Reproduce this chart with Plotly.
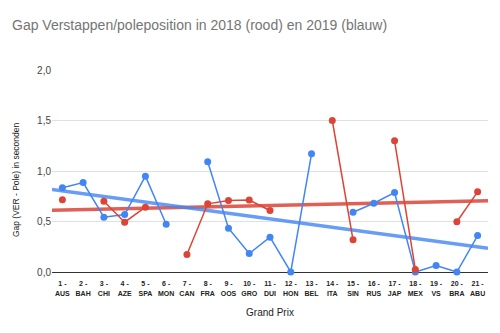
import numpy as np
import plotly.graph_objects as go

# Grand Prix rounds (number + short code)
rounds = list(range(1, 22))
gp_codes = ["AUS", "BAH", "CHI", "AZE", "SPA", "MON", "CAN", "FRA", "OOS", "GRO",
            "DUI", "HON", "BEL", "ITA", "SIN", "RUS", "JAP", "MEX", "VS", "BRA", "ABU"]
tick_labels = [f"<b>{n} -<br>{c}</b>" for n, c in zip(rounds, gp_codes)]

# Gap to pole position (seconds); None = no comparable qualifying
gap_2018 = [0.715, None, 0.70, 0.493, 0.642, None, 0.173, 0.675, 0.708, 0.712,
            0.609, None, None, 1.50, 0.319, None, 1.299, 0.025, None, 0.497, 0.794]
gap_2019 = [0.834, 0.886, 0.543, 0.569, 0.949, 0.473, None, 1.091, 0.434, 0.183,
            0.345, 0.0, 1.17, None, 0.592, 0.681, 0.787, 0.0, 0.064, 0.0, 0.361]

RED = "#DB4437"
BLUE = "#4285F4"


def trend(values):
    xs = np.array([r for r, v in zip(rounds, values) if v is not None], float)
    ys = np.array([v for v in values if v is not None], float)
    slope, intercept = np.polyfit(xs, ys, 1)
    x_line = np.array([0.5, 21.5])
    return x_line, slope * x_line + intercept


fig = go.Figure()

for values, trend_color in [(gap_2018, "rgba(219,68,55,0.85)"),
                            (gap_2019, "rgba(66,133,244,0.8)")]:
    tx, ty = trend(values)
    fig.add_trace(go.Scatter(x=tx, y=ty, mode="lines",
                             line=dict(color=trend_color, width=3.5),
                             hoverinfo="skip", showlegend=False))

for values, color in [(gap_2019, BLUE), (gap_2018, RED)]:
    fig.add_trace(go.Scatter(x=rounds, y=values, mode="lines+markers",
                             line=dict(color=color, width=1.5),
                             marker=dict(color=color, size=7),
                             connectgaps=False, cliponaxis=False,
                             showlegend=False))

fig.update_layout(
    width=500, height=333,
    margin=dict(l=52, r=12, t=70, b=61),
    paper_bgcolor="white", plot_bgcolor="white",
    separators=",.",
    font=dict(family="Liberation Sans, Arial, sans-serif", color="#222222"),
    title=dict(text="Gap Verstappen/poleposition in 2018 (rood) en 2019 (blauw)",
               x=0.024, xanchor="left", y=0.925, yanchor="middle",
               font=dict(size=14, color="#757575")),
    xaxis=dict(
        range=[0.5, 21.5], tickmode="array", tickvals=rounds, ticktext=tick_labels,
        showgrid=False, zeroline=False, showline=False,
        ticks="outside", ticklen=5, tickcolor="rgba(0,0,0,0)",
        tickfont=dict(size=7, color="#222222", family="Liberation Sans, Arial, sans-serif"),
        title=dict(text="Grand Prix", font=dict(size=10, color="#222222"), standoff=13),
    ),
    yaxis=dict(
        range=[0, 2], tickvals=[0, 0.5, 1, 1.5, 2], tickformat=".1f",
        showgrid=True, gridcolor="#e0e0e0", gridwidth=1,
        zeroline=True, zerolinecolor="#333333", zerolinewidth=1,
        tickfont=dict(size=10, color="#444444"), ticks="", ticklen=0,
    ),
    annotations=[dict(
        text="Gap (VER - Pole) in seconden", textangle=-90,
        xref="paper", yref="paper", x=-0.083, y=0.459,
        xanchor="center", yanchor="middle", showarrow=False,
        font=dict(size=8.5, color="#222222"),
    )],
)

fig.write_html("out.html")
